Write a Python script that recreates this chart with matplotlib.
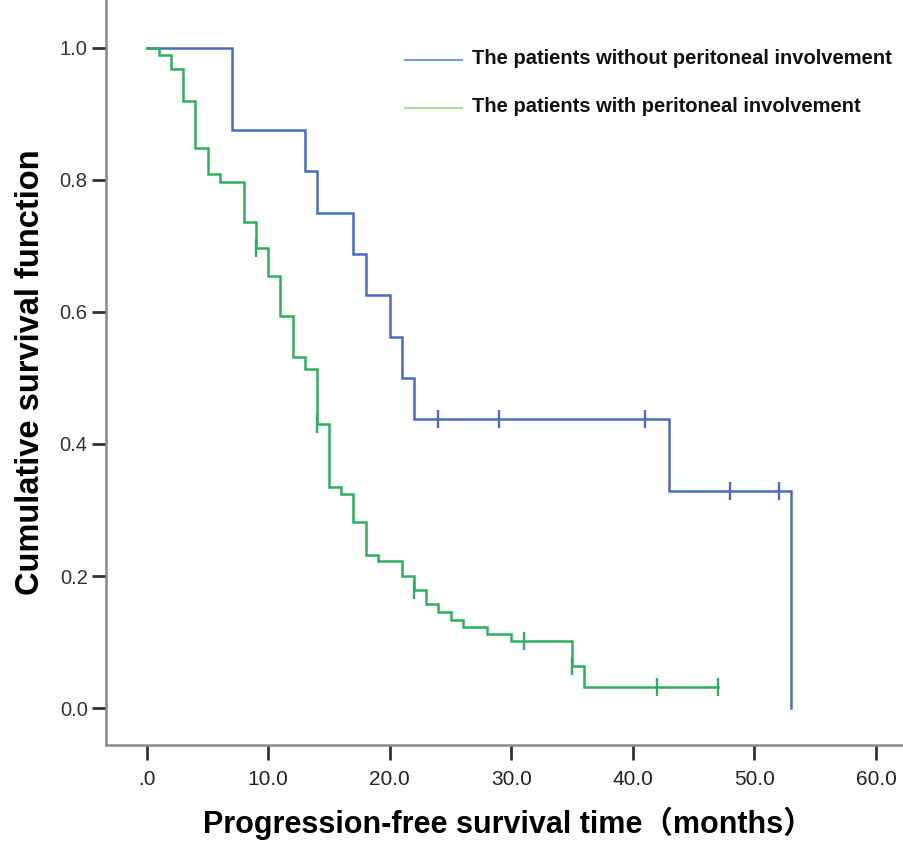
import numpy as np
import matplotlib
matplotlib.use("Agg")
import matplotlib.pyplot as plt

plt.rcParams['font.family'] = ['Liberation Sans', 'Noto Sans CJK SC', 'DejaVu Sans']

# ---- data ----
blue_label = "The patients without peritoneal involvement"
blue_time = [0, 7, 13, 14, 17, 18, 20, 21, 22, 43, 53]
blue_surv = [1.0, 0.875, 0.8125, 0.75, 0.6875, 0.625, 0.5625, 0.5, 0.4375, 0.328, 0.0]
blue_censor = [24, 29, 41, 48, 52]
blue_end = 53

green_label = "The patients with peritoneal involvement"
green_time = [0, 1, 2, 3, 4, 5, 6, 8, 9, 10, 11, 12, 13, 14, 15, 16, 17, 18, 19,
              21, 22, 23, 24, 25, 26, 28, 30, 35, 36]
green_surv = [1.0, 0.989, 0.968, 0.919, 0.848, 0.808, 0.797, 0.736, 0.697, 0.654,
              0.594, 0.532, 0.514, 0.430, 0.335, 0.324, 0.282, 0.232, 0.222,
              0.200, 0.179, 0.158, 0.146, 0.133, 0.123, 0.112, 0.101, 0.064, 0.032]
green_censor = [9, 14, 22, 31, 35, 42, 47]
green_end = 47

x_ticks = [0, 10, 20, 30, 40, 50, 60]
x_ticklabels = [".0", "10.0", "20.0", "30.0", "40.0", "50.0", "60.0"]
y_ticks = [0.0, 0.2, 0.4, 0.6, 0.8, 1.0]
y_ticklabels = ["0.0", "0.2", "0.4", "0.6", "0.8", "1.0"]

BLUE = '#4a6cc0'
GREEN = '#2fae5f'
BLUE_LEG = '#6fa3d8'
GREEN_LEG = '#aedb8e'

fig = plt.figure(figsize=(9.04, 8.41), dpi=100)
ax = fig.add_axes([0.117, 0.114, 0.883, 0.886])


def km(ax, t, s, cens, end, color):
    t = list(t)
    s = list(s)
    if end > t[-1]:
        t.append(end)
        s.append(s[-1])
    ax.plot(t, s, drawstyle='steps-post', color=color, lw=1.8, solid_joinstyle='miter')
    tt = np.array(t)
    ss = np.array(s)
    idx = np.searchsorted(tt, cens, side='right') - 1
    ax.plot(cens, ss[idx], linestyle='none', marker='|', markersize=13,
            markeredgewidth=1.7, color=color)


km(ax, blue_time, blue_surv, blue_censor, blue_end, BLUE)
km(ax, green_time, green_surv, green_censor, green_end, GREEN)

ax.set_xlim(-3.37, 62.3)
ax.set_ylim(-0.056, 1.072)
for side in ['top', 'right']:
    ax.spines[side].set_visible(False)
for side in ['left', 'bottom']:
    ax.spines[side].set_color('#8a8a8a')
    ax.spines[side].set_linewidth(1.8)

ax.set_xticks(x_ticks)
ax.set_xticklabels(x_ticklabels)
ax.set_yticks(y_ticks)
ax.set_yticklabels(y_ticklabels)
ax.tick_params(axis='x', direction='out', length=11, width=2, color='#333333',
               labelsize=15, labelcolor='#222222', pad=7)
ax.tick_params(axis='y', direction='out', length=10, width=2, color='#333333',
               labelsize=14.5, labelcolor='#333333', pad=3)

fig.text(0.5625, 0.009, "Progression-free survival time（months）", fontsize=22,
         fontweight='bold', ha='center', va='baseline')
ax.set_ylabel("Cumulative survival function", fontsize=23.5, fontweight='bold',
              labelpad=10)

# legend (drawn in axes coordinates)
leg_rows = [(blue_label, BLUE_LEG, 0.919), (green_label, GREEN_LEG, 0.855)]
for label, col, yy in leg_rows:
    ax.plot([0.3747, 0.446], [yy, yy], color=col, lw=1.5, transform=ax.transAxes)
    ax.text(0.4586, yy + 0.002, label, transform=ax.transAxes, fontsize=14.5,
            fontweight='bold', va='center', ha='left', color='#111111')

fig.savefig("out.png", dpi=100, facecolor='white')
